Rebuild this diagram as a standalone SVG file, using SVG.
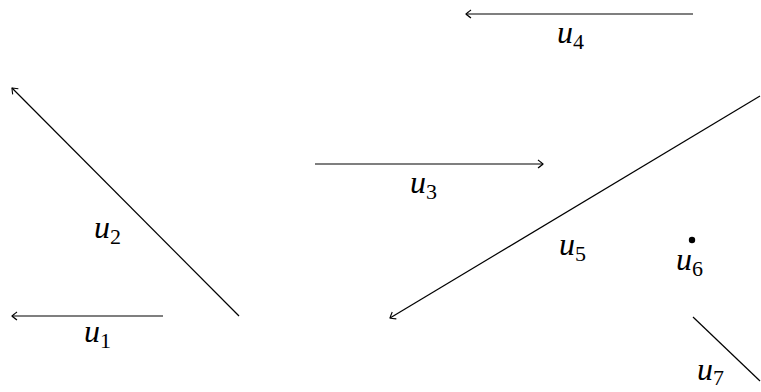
<svg xmlns="http://www.w3.org/2000/svg" width="761" height="392" viewBox="0 0 761 392">
<style>
.e{stroke:#000;stroke-width:1.2;fill:none}
.l{font-family:"Liberation Serif","DejaVu Serif",serif;font-style:italic;font-size:32px;fill:#000}
.s{font-style:normal;font-size:22px}
</style>
<defs>
<marker id="a" viewBox="-6 -5 8 10" markerWidth="8" markerHeight="10" refX="0" refY="0" orient="auto" markerUnits="userSpaceOnUse">
<path d="M-5,-4 Q-1,-1 0,0 Q-1,1 -5,4" fill="none" stroke="#000" stroke-width="1.1"/>
</marker>
</defs>
<g id="edges">
<line class="e" x1="163" y1="316" x2="12" y2="316" marker-end="url(#a)"/>
<line class="e" x1="239" y1="316" x2="12" y2="88" marker-end="url(#a)"/>
<line class="e" x1="315" y1="164" x2="543" y2="164" marker-end="url(#a)"/>
<line class="e" x1="693" y1="14" x2="466" y2="14" marker-end="url(#a)"/>
<line class="e" x1="760" y1="96" x2="390" y2="318" marker-end="url(#a)"/>
<line class="e" x1="693" y1="317" x2="760" y2="381"/>
</g>
<g id="u1"><text class="l" x="84" y="342">u<tspan class="s" dy="6">1</tspan></text></g>
<g id="u2"><text class="l" x="94" y="238">u<tspan class="s" dy="6">2</tspan></text></g>
<g id="u3"><text class="l" x="410" y="193">u<tspan class="s" dy="6">3</tspan></text></g>
<g id="u4"><text class="l" x="557" y="43">u<tspan class="s" dy="6">4</tspan></text></g>
<g id="u5"><text class="l" x="559" y="255">u<tspan class="s" dy="6">5</tspan></text></g>
<g id="u6"><circle cx="692" cy="240" r="3.2" fill="#000"/><text class="l" x="676" y="270">u<tspan class="s" dy="6">6</tspan></text></g>
<g id="u7"><text class="l" x="697" y="380">u<tspan class="s" dy="5">7</tspan></text></g>
</svg>
